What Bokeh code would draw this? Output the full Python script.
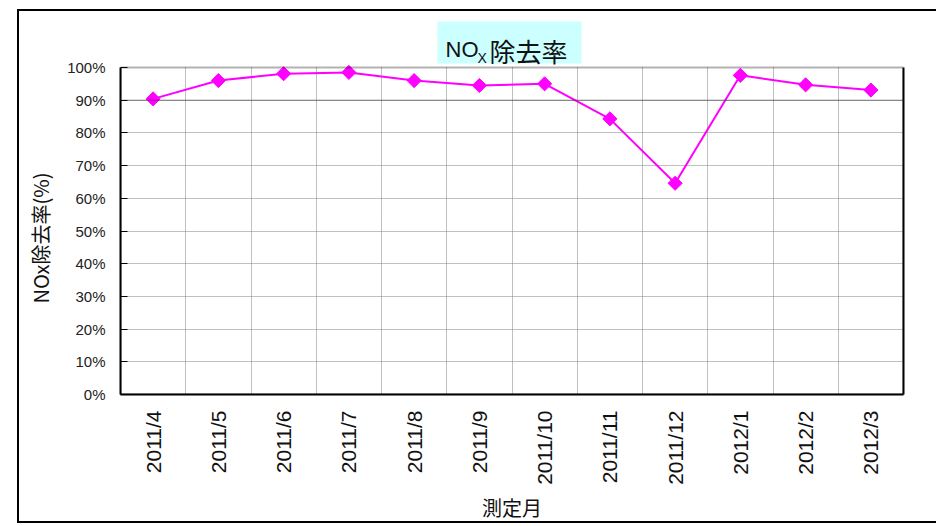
import math
from bokeh.plotting import figure
from bokeh.models import (FixedTicker, PrintfTickFormatter, BoxAnnotation, Label, Span,
                          ColumnDataSource, LinearAxis, InlineStyleSheet, Title)
from bokeh.embed import file_html
from bokeh.resources import INLINE

# ---- data ----
months = ["2011/4", "2011/5", "2011/6", "2011/7", "2011/8", "2011/9",
          "2011/10", "2011/11", "2011/12", "2012/1", "2012/2", "2012/3"]
nox_removal = [90.4, 96.0, 98.1, 98.5, 96.0, 94.5, 95.0, 84.3, 64.6, 97.6, 94.7, 93.1]
y_ticks = [0, 10, 20, 30, 40, 50, 60, 70, 80, 90, 100]

title_parts = ["NO", "X", "除去率"]
y_label = "NOx除去率(%)"
x_label = "測定月"

# ---- geometry (page px) ----
W, H = 936, 526
FL, FR, FT, FB = 120, 903, 67, 394   # plot-area edges on the page
n = len(months)
YMAX = y_ticks[-1]
def px2x(px):
    return (px - FL) / (FR - FL) * n
def py2y(py):
    return (FB - py) / (FB - FT) * YMAX

x_centers = [i + 0.5 for i in range(n)]
boundaries = [i for i in range(1, n)]

SANS = "'Liberation Sans', Arial, sans-serif"
CJK = "'Noto Sans CJK JP', sans-serif"

# frame reaches the top of the canvas so the title can live inside it
p = figure(width=W, height=H, x_range=(0, n), y_range=(0, py2y(0)),
           output_backend="svg", toolbar_location=None,
           min_border_left=FL, min_border_right=W - FR,
           min_border_top=0, min_border_bottom=H - FB)
p.background_fill_color = "white"
p.border_fill_color = "white"
p.outline_line_color = None

# outer chart border (CSS, drawn over the canvas)
p.stylesheets = [InlineStyleSheet(css="""
:host { position: relative; overflow: hidden; }
:host::after { content: ""; position: absolute; left: 17px; top: 9px; width: 960px; height: 514px;
  border: 2px solid #000; box-sizing: border-box; pointer-events: none; z-index: 10; }
""")]

# x axis
p.xaxis.ticker = FixedTicker(ticks=x_centers)
p.xaxis.major_label_overrides = {c: m for c, m in zip(x_centers, months)}
p.xaxis.major_label_orientation = math.pi / 2
p.xaxis.major_tick_line_color = None
p.xaxis.minor_tick_line_color = None
p.xaxis.major_label_standoff = 10
p.xaxis.major_label_text_font = SANS
p.xaxis.major_label_text_font_size = "21px"
p.xaxis.major_label_text_color = "#111"
p.xaxis.axis_line_width = 2
p.xaxis.bounds = (0, n)
p.xaxis.axis_label = x_label
p.xaxis.axis_label_text_font = CJK
p.xaxis.axis_label_text_font_size = "20px"
p.xaxis.axis_label_text_font_style = "normal"
p.xaxis.axis_label_text_color = "#111"
p.xaxis.axis_label_standoff = 5

# y axis
p.yaxis.ticker = FixedTicker(ticks=y_ticks)
p.yaxis.formatter = PrintfTickFormatter(format="%d%%")
p.yaxis.bounds = (0, YMAX)
p.yaxis.major_tick_in = 7
p.yaxis.major_tick_out = 0
p.yaxis.minor_tick_line_color = None
p.yaxis.major_label_standoff = 15
p.yaxis.major_label_text_font = SANS
p.yaxis.major_label_text_font_size = "15px"
p.yaxis.major_label_text_color = "#222"
p.yaxis.axis_line_width = 2

# y axis title, placed beside the plot area (not the taller frame)
p.add_layout(Title(text=y_label, align="left", offset=FB - 303, standoff=20,
                   vertical_align="bottom", text_font=CJK, text_font_size="20px",
                   text_font_style="normal", text_color="#111"), "left")

# right edge of plot area
ra = LinearAxis(ticker=FixedTicker(ticks=[]), bounds=(0, YMAX), axis_line_width=2,
                major_tick_line_color=None, minor_tick_line_color=None,
                major_label_text_font_size="0px")
p.add_layout(ra, "right")

# grids
p.xgrid.ticker = FixedTicker(ticks=boundaries)
p.xgrid.grid_line_color = "#808080"
p.xgrid.grid_line_dash = "1 1"
p.xgrid.grid_line_width = 1
if "cross_bounds" in p.xgrid[0].properties():
    p.xgrid.cross_bounds = (0, YMAX)
p.ygrid.ticker = FixedTicker(ticks=y_ticks[1:-1])
p.ygrid.grid_line_color = "#808080"
p.ygrid.grid_line_dash = "1 1"
p.ygrid.grid_line_width = 1
p.add_layout(Span(location=90, dimension="width", line_color="#222",
                  line_dash="1 1", line_width=1))

# top edge of plot area
p.add_layout(BoxAnnotation(left=0, right=n, bottom=0, top=YMAX,
                           fill_color=None, line_color="black", line_width=2))

# data
src = ColumnDataSource(dict(x=x_centers, y=nox_removal, m=months))
p.line("x", "y", source=src, line_color="#FF00FF", line_width=2)
p.scatter("x", "y", source=src, marker="square", angle=math.pi / 4, size=10,
          fill_color="#FF00FF", line_color="#FF00FF")

# title box
p.add_layout(BoxAnnotation(left=px2x(437), right=px2x(581), top=py2y(21), bottom=py2y(63),
                           fill_color="#CCFFFF", fill_alpha=1.0, line_color=None))
p.add_layout(Label(x=px2x(445), y=py2y(49), text=title_parts[0],
                   text_font=SANS, text_font_size="22px",
                   text_color="#111", text_baseline="alphabetic"))
p.add_layout(Label(x=px2x(477), y=py2y(57), text=title_parts[1],
                   text_font=SANS, text_font_size="14px",
                   text_color="#111", text_baseline="alphabetic"))
p.add_layout(Label(x=px2x(489), y=py2y(50), text=title_parts[2],
                   text_font=CJK, text_font_size="26px",
                   text_color="#111", text_baseline="alphabetic"))

open("out.html", "w").write(file_html(p, INLINE))
